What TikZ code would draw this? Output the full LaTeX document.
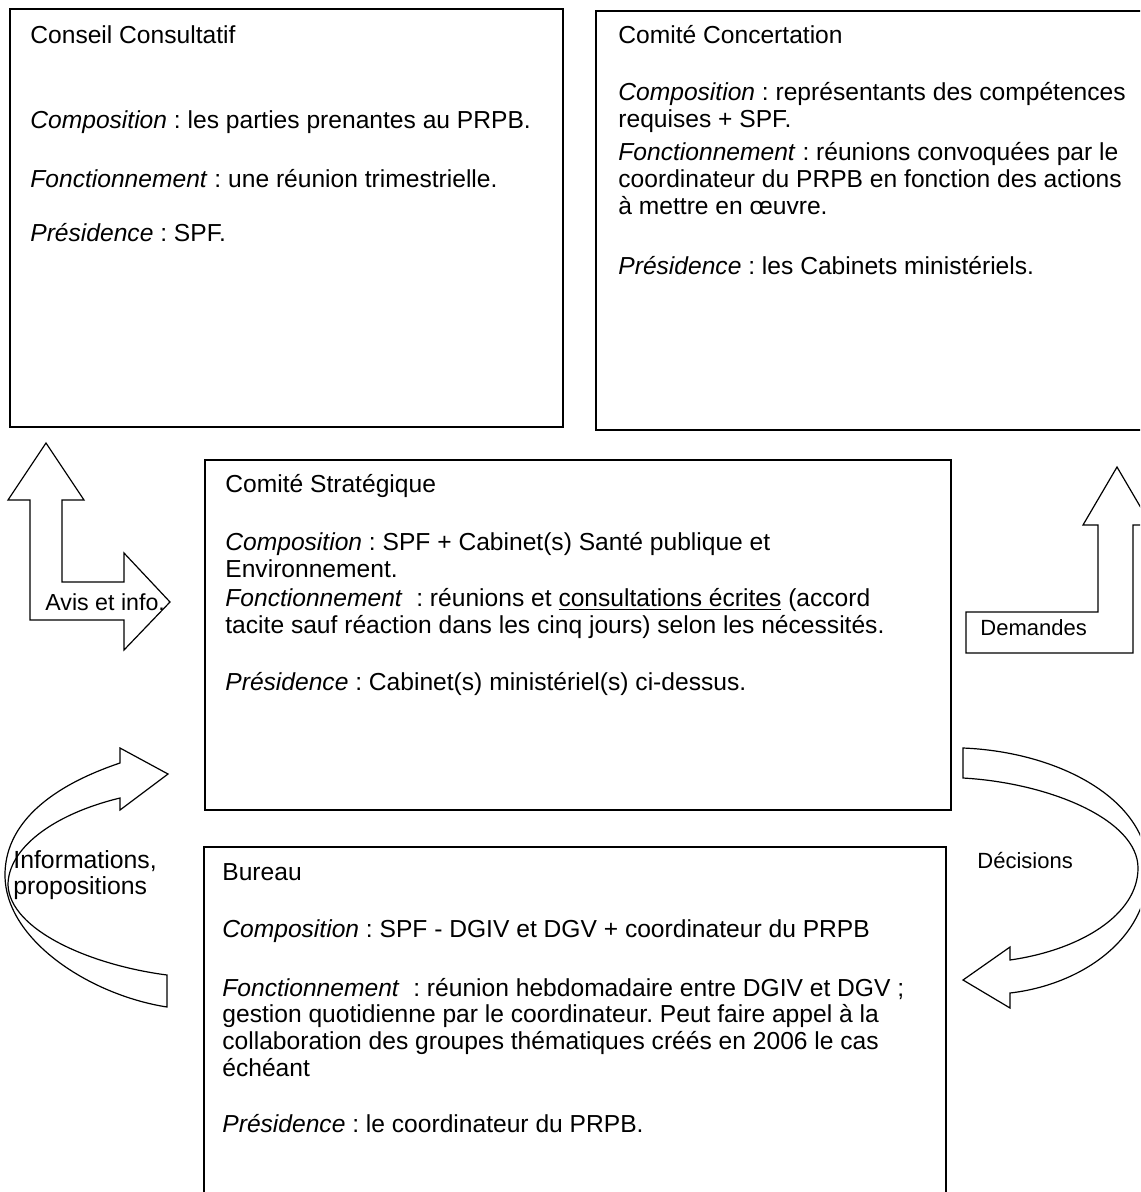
\documentclass[tikz,border=0pt]{standalone}
\usepackage{fontspec}
\setmainfont{Liberation Sans}
\usetikzlibrary{fit}
\frenchspacing
\begin{document}
\begin{tikzpicture}[x=0.5pt,y=-0.5pt,
  box/.style={draw, line width=0.8pt, inner sep=0pt, rectangle},
  txt/.style={anchor=base west, inner sep=0pt, font=\fontsize{12.3}{14}\selectfont},
  lbl/.style={anchor=base west, inner sep=0pt, font=\fontsize{11}{13}\selectfont},
  blockarrow/.style={draw, line width=0.6pt, fill=white, line join=miter}]
\useasboundingbox (0,0) rectangle (1140,1192);
\clip (0,0) rectangle (1140,1192);
\fill[white] (0,0) rectangle (1140,1192);

% boxes
\node[box, fit={(10,9) (563,427)}] (cc) {};
\node[box, fit={(596,11) (1160,430)}] (ccon) {};
\node[box, fit={(205,460) (951,810)}] (cs) {};
\node[box, fit={(204,847) (946,1215)}] (bur) {};

% Conseil Consultatif
\node[txt] (cc1) at (30,44) {Conseil Consultatif};
\node[txt] (cc2) at (30,129) {\textit{Composition} : les parties prenantes au PRPB.};
\node[txt] (cc3) at (30,188) {\textit{Fonctionnement} : une réunion trimestrielle.};
\node[txt] (cc4) at (30,242) {\textit{Présidence} : SPF.};

% Comite Concertation
\node[txt] (co1) at (618,44) {Comité Concertation};
\node[txt] (co2) at (618,101) {\textit{Composition} : représentants des compétences};
\node[txt] (co3) at (618,128) {requises + SPF.};
\node[txt] (co4) at (618,161) {\textit{Fonctionnement} : réunions convoquées par le};
\node[txt] (co5) at (618,188) {coordinateur du PRPB en fonction des actions};
\node[txt] (co6) at (618,215) {à mettre en œuvre.};
\node[txt] (co7) at (618,275) {\textit{Présidence} : les Cabinets ministériels.};

% Comite Strategique
\node[txt] (cs1) at (225,492) {Comité Stratégique};
\node[txt] (cs2) at (225,550) {\textit{Composition} : SPF + Cabinet(s) Santé publique et};
\node[txt] (cs3) at (225,577) {Environnement.};
\node[txt] (cs4) at (225,606) {\textit{Fonctionnement}\ \ : réunions et \underline{consultations écrites} (accord};
\node[txt] (cs5) at (225,633) {tacite sauf réaction dans les cinq jours) selon les nécessités.};
\node[txt] (cs6) at (225,690) {\textit{Présidence} : Cabinet(s) ministériel(s) ci-dessus.};

% Bureau
\node[txt] (bu1) at (222,880) {Bureau};
\node[txt] (bu2) at (222,937) {\textit{Composition} : SPF - DGIV et DGV + coordinateur du PRPB};
\node[txt] (bu3) at (222,996) {\textit{Fonctionnement}\ \ : réunion hebdomadaire entre DGIV et DGV ;};
\node[txt] (bu4) at (222,1022) {gestion quotidienne par le coordinateur. Peut faire appel à la};
\node[txt] (bu5) at (222,1049) {collaboration des groupes thématiques créés en 2006 le cas};
\node[txt] (bu6) at (222,1076) {échéant};
\node[txt] (bu7) at (222,1132) {\textit{Présidence} : le coordinateur du PRPB.};

% Avis et info. (bent double arrow)
\draw[blockarrow] (46,443) -- (84,500) -- (62,500) -- (62,582) -- (124,582) -- (124,553)
  -- (170,602) -- (124,650) -- (124,620) -- (30,620) -- (30,500) -- (8,500) -- cycle;
\node[lbl, font=\fontsize{11.6}{14}\selectfont] (avis) at (45,610) {Avis et info.};

% Demandes (bent arrow)
\draw[blockarrow] (1117,467) -- (1151,525) -- (1133,525) -- (1133,653) -- (966,653)
  -- (966,612) -- (1098,612) -- (1098,525) -- (1083,525) -- cycle;
\node[lbl] (dem) at (980,635) {Demandes};

% Informations, propositions (curved arrow)
\draw[blockarrow] (167,1007) .. controls (90,995) and (5,940) .. (5,875)
  .. controls (5,830) and (40,790) .. (120,763) -- (120,748) -- (168,774) -- (120,810)
  -- (120,798) .. controls (50,815) and (8,850) .. (8,885)
  .. controls (10,930) and (90,965) .. (167,975) -- cycle;
\node[lbl, font=\fontsize{12.4}{14}\selectfont] (inf1) at (13,868) {Informations,};
\node[lbl, font=\fontsize{12.4}{14}\selectfont] (inf2) at (13,894) {propositions};

% Decisions (curved arrow)
\draw[blockarrow] (963,748) .. controls (1060,752) and (1148,800) .. (1148,870)
  .. controls (1148,940) and (1080,985) .. (1010,993) -- (1010,1008) -- (963,980)
  -- (1010,947) -- (1010,960) .. controls (1080,950) and (1138,915) .. (1138,868)
  .. controls (1138,820) and (1050,783) .. (963,778) -- cycle;
\node[lbl] (dec) at (977,868) {Décisions};
\end{tikzpicture}
\end{document}
